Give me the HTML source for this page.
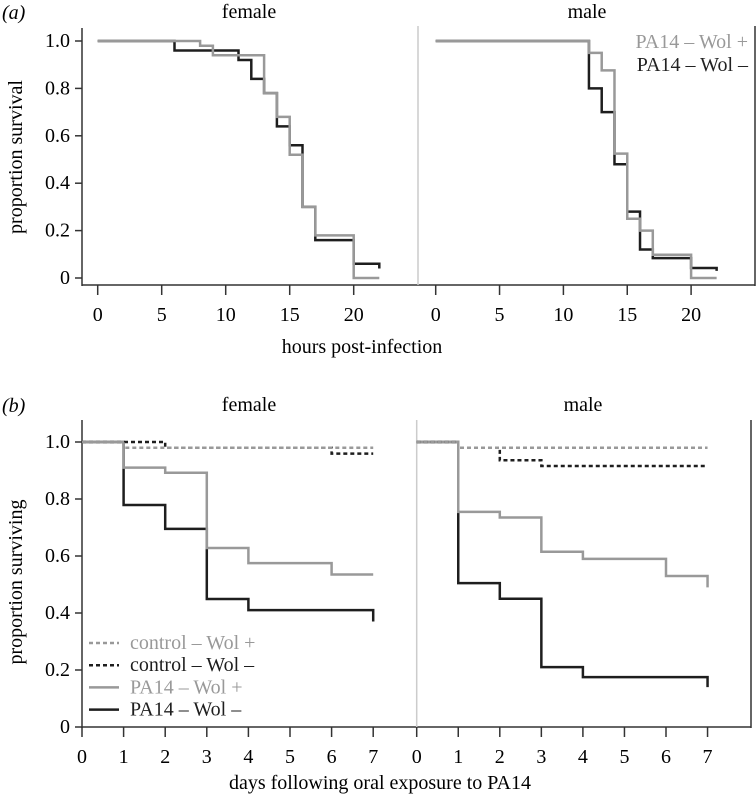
<!DOCTYPE html>
<html><head><meta charset="utf-8"><style>
body{margin:0;background:#fff}
svg{display:block}
svg text{font-family:"Liberation Serif","Times New Roman",serif}
</style></head><body>
<svg id="fig" width="756" height="794" viewBox="0 0 756 794" font-family="Liberation Serif, serif">
<text x="2" y="19" font-size="20" font-style="italic">(a)</text>
<text x="2" y="412" font-size="20" font-style="italic">(b)</text>
<text x="249" y="18" font-size="20" text-anchor="middle">female</text>
<text x="587" y="18" font-size="20" text-anchor="middle">male</text>
<text x="249" y="411" font-size="20" text-anchor="middle">female</text>
<text x="583" y="411" font-size="20" text-anchor="middle">male</text>
<text transform="translate(22,157) rotate(-90)" font-size="20" text-anchor="middle">proportion survival</text>
<text transform="translate(22,582) rotate(-90)" font-size="20" text-anchor="middle">proportion surviving</text>
<text x="362" y="353" font-size="20" text-anchor="middle">hours post-infection</text>
<text x="380" y="789" font-size="20" text-anchor="middle">days following oral exposure to PA14</text>
<text x="748" y="48" font-size="20" text-anchor="end" fill="#999">PA14 – Wol +</text>
<text x="748" y="71" font-size="20" text-anchor="end" fill="#222">PA14 – Wol –</text>
</svg>
<script>
const aTicksX=[0,5,10,15,20];
const bTicksX=[0,1,2,3,4,5,6,7];
const yTicks=[0,0.2,0.4,0.6,0.8,1.0];
const yTickLabels=["0","0.2","0.4","0.6","0.8","1.0"];
const aFemPlusT=[0,8,9,13,14,15,16,17,20,22];
const aFemPlusV=[1,0.98,0.94,0.78,0.68,0.52,0.30,0.18,0,0];
const aFemMinusT=[0,6,11,12,13,14,15,16,17,20,22];
const aFemMinusV=[1,0.96,0.92,0.84,0.78,0.64,0.56,0.30,0.16,0.06,0.04];
const aMalePlusT=[0,12,13,14,15,16,17,20,22];
const aMalePlusV=[1,0.95,0.876,0.525,0.25,0.2,0.098,0,0];
const aMaleMinusT=[0,12,13,14,15,16,17,20,22];
const aMaleMinusV=[1,0.80,0.70,0.48,0.28,0.12,0.084,0.042,0.03];
const bFemCtrlPlusT=[0,1,7]; const bFemCtrlPlusV=[1,0.98,0.98];
const bFemCtrlMinusT=[0,2,6,7]; const bFemCtrlMinusV=[1,0.98,0.959,0.959];
const bFemPlusT=[0,1,2,3,4,6,7]; const bFemPlusV=[1,0.91,0.892,0.628,0.575,0.535,0.535];
const bFemMinusT=[0,1,2,3,4,7]; const bFemMinusV=[1,0.779,0.695,0.449,0.41,0.37];
const bMaleCtrlPlusT=[0,1,7]; const bMaleCtrlPlusV=[1,0.98,0.98];
const bMaleCtrlMinusT=[0,1,2,3,7]; const bMaleCtrlMinusV=[1,0.98,0.936,0.916,0.916];
const bMalePlusT=[0,1,2,3,4,6,7]; const bMalePlusV=[1,0.755,0.735,0.615,0.59,0.53,0.49];
const bMaleMinusT=[0,1,2,3,4,7]; const bMaleMinusV=[1,0.505,0.45,0.21,0.175,0.14];

const NS="http://www.w3.org/2000/svg";
const svg=document.getElementById('fig');
function mk(tag,attrs){const e=document.createElementNS(NS,tag);for(const k in attrs)e.setAttribute(k,attrs[k]);svg.appendChild(e);return e;}
const GRAY="#999",BLACK="#1e1e1e";
function axis(x0,xs,y0,ys){return {x:t=>x0+t*xs,y:v=>y0-v*ys};}
const aF=axis(97.7,12.8,278,237), aM=axis(435.7,12.77,278,237);
const bF=axis(82,41.6,727,285), bM=axis(416.7,41.55,727,285);

function step(ax,T,V,color,dash,name){
  let d="M"+ax.x(T[0])+","+ax.y(V[0]);
  for(let i=1;i<T.length;i++){
    d+=" H"+ax.x(T[i]);
    d+=" V"+ax.y(V[i]);
  }
  const p=mk('path',{d:d,fill:"none",stroke:color,"stroke-width":2.5});
  if(dash)p.setAttribute('stroke-dasharray',dash);
  
  
}
function line(x1,y1,x2,y2,c,w,name){const l=mk('line',{x1,y1,x2,y2,stroke:c,"stroke-width":w});
  
  }
line(82,28,82,286,"#333",1.5,"panel-a-y-axis");
line(82,285,418,285,"#333",1.5,"panel-a-x-axis-female");
line(418,285,755,285,"#333",1.5,"panel-a-x-axis-male");
line(418,26,418,285,"#ccc",1.5,"panel-a-divider");
line(755,26,755,286,"#333",1.5,"panel-a-right-border");
line(82,420,82,728,"#333",1.5,"panel-b-y-axis");
line(82,727,751,727,"#333",1.5,"panel-b-x-axis");
line(416.7,420,416.7,727,"#ccc",1.5,"panel-b-divider");
line(751,420,751,728,"#333",1.5,"panel-b-right-border");

function yAxis(ax,name){
  yTicks.forEach((v,i)=>{
    line(75,ax.y(v),82,ax.y(v),"#333",1.5,name+"-tick");
    const t=mk('text',{x:70,y:ax.y(v)+6,"font-size":20,"text-anchor":"end"});
    t.textContent=yTickLabels[i];
    
    
  });
}
yAxis(aF,"panel-a-y"); yAxis(bF,"panel-b-y");
function xAxis(ax,ticks,yb,ly,name){
  ticks.forEach(v=>{
    line(ax.x(v),yb,ax.x(v),yb+10,"#333",1.5,name+"-tick");
    const t=mk('text',{x:ax.x(v),y:ly,"font-size":20,"text-anchor":"middle"});
    t.textContent=String(v);
    
    
  });
}
xAxis(aF,aTicksX,285,321,"panel-a-female-x");
xAxis(aM,aTicksX,285,321,"panel-a-male-x");
xAxis(bF,bTicksX,727,763,"panel-b-female-x");
xAxis(bM,bTicksX,727,763,"panel-b-male-x");

step(aF,aFemMinusT,aFemMinusV,BLACK,null,"a-female-wol-minus");
step(aF,aFemPlusT,aFemPlusV,GRAY,null,"a-female-wol-plus");
step(aM,aMaleMinusT,aMaleMinusV,BLACK,null,"a-male-wol-minus");
step(aM,aMalePlusT,aMalePlusV,GRAY,null,"a-male-wol-plus");

step(bF,bFemMinusT,bFemMinusV,BLACK,null,"b-female-pa14-wol-minus");
step(bF,bFemPlusT,bFemPlusV,GRAY,null,"b-female-pa14-wol-plus");
step(bF,bFemCtrlMinusT,bFemCtrlMinusV,BLACK,"4,3","b-female-control-wol-minus");
step(bF,bFemCtrlPlusT,bFemCtrlPlusV,GRAY,"4,3","b-female-control-wol-plus");
step(bM,bMaleMinusT,bMaleMinusV,BLACK,null,"b-male-pa14-wol-minus");
step(bM,bMalePlusT,bMalePlusV,GRAY,null,"b-male-pa14-wol-plus");
step(bM,bMaleCtrlMinusT,bMaleCtrlMinusV,BLACK,"4,3","b-male-control-wol-minus");
step(bM,bMaleCtrlPlusT,bMaleCtrlPlusV,GRAY,"4,3","b-male-control-wol-plus");

const legLabels=["control – Wol +","control – Wol –","PA14 – Wol +","PA14 – Wol –"];
const legColors=[GRAY,BLACK,GRAY,BLACK];
const legDash=["4,3","4,3",null,null];
legLabels.forEach((s,i)=>{
  const y=643+i*22.2;
  const l=mk('line',{x1:89,y1:y,x2:119,y2:y,stroke:legColors[i],"stroke-width":2.5});
  if(legDash[i])l.setAttribute('stroke-dasharray',legDash[i]);
  
  
  const t=mk('text',{x:130,y:y+6,"font-size":20,fill:legColors[i]});
  t.textContent=s;
  
  
});
</script>
</body></html>
